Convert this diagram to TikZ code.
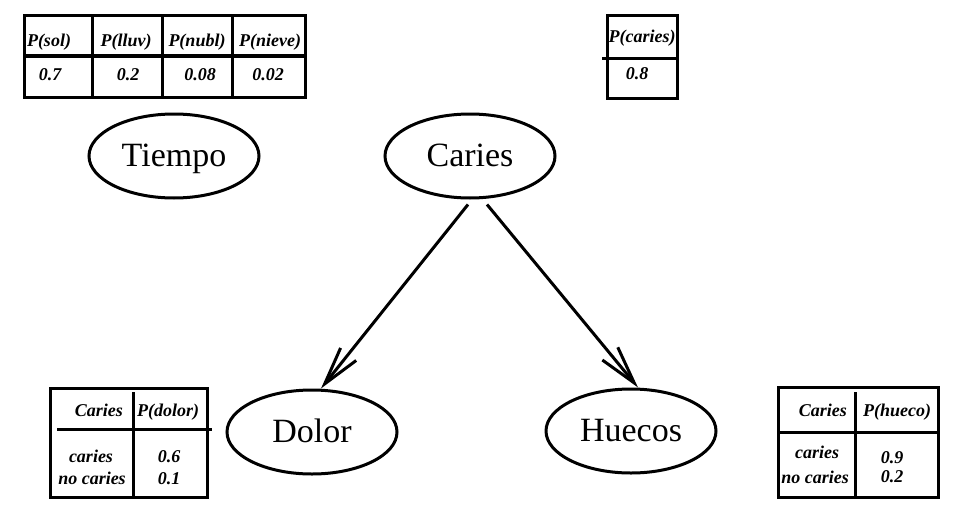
\documentclass[tikz,border=0pt]{standalone}
\usepackage{fontspec}
\setmainfont{Liberation Serif}
\newfontfamily\cellfont{Liberation Serif Bold Italic}
\usetikzlibrary{shapes.geometric,arrows.meta}
\tikzset{
  var/.style={ellipse, draw, line width=3pt, minimum width=170pt, minimum height=84pt, inner sep=0pt, text height=22pt, text depth=2pt, font=\fontsize{34}{40}\selectfont},
  tbl/.style={line width=3pt},
  cell/.style={inner sep=0pt, anchor=base, font=\fontsize{18}{20}\cellfont},
  link/.style={line width=3pt, -{Straight Barb[length=38pt,width=20pt]}}
}
\begin{document}
\begin{tikzpicture}[x=1pt,y=-1pt]
\useasboundingbox (0,0) rectangle (957,527);
\fill[white] (0,0) rectangle (957,527);

% ellipse nodes
\node[var] (tiempo) at (174,156) {Tiempo};
\node[var] (caries) at (470,156) {Caries};
\node[var] (dolor)  at (312,432) {Dolor};
\node[var] (huecos) at (631,431) {Huecos};

% arrows
\draw[link] ([xshift=-2pt,yshift=-5pt]caries.south) -- ([xshift=9pt]dolor.north);
\draw[link] ([xshift=17pt,yshift=-5pt]caries.south) -- ([xshift=7pt]huecos.north);

% weather table
\draw[tbl] (24,16) rectangle (305,97);
\draw[tbl] (92,16) -- (92,97) (162,16) -- (162,97) (232,16) -- (232,97);
\draw[tbl] (24,56) -- (305,56);
\node[cell] (ps) at (49,46) {P(sol)};
\node[cell] (pl) at (126,46) {P(lluv)};
\node[cell] (pn) at (197,46) {P(nubl)};
\node[cell] (pv) at (270,46) {P(nieve)};
\node[cell] (vs) at (50,80) {0.7};
\node[cell] (vl) at (128,80) {0.2};
\node[cell] (vn) at (200,80) {0.08};
\node[cell] (vv) at (268,80) {0.02};

% caries prior table
\draw[tbl] (607,16) rectangle (677,98);
\draw[tbl] (602,58) -- (677,58);
\node[cell] (pc) at (642,43) {P(caries)};
\node[cell] (vc) at (637,79) {0.8};

% dolor table
\draw[tbl] (50,388) rectangle (207,497);
\draw[tbl] (133,392) -- (133,497);
\draw[tbl] (57,429) -- (212,429);
\node[cell, anchor=base east] (dh1) at (123,416) {Caries};
\node[cell, anchor=base west] (dh2) at (137,416) {P(dolor)};
\node[cell] (dr1) at (91,462) {caries};
\node[cell] (dr2) at (92,484) {no caries};
\node[cell] (dv1) at (169,462) {0.6};
\node[cell] (dv2) at (169,484) {0.1};

% hueco table
\draw[tbl] (778,387) rectangle (938,497);
\draw[tbl] (855,392) -- (855,497);
\draw[tbl] (780,432) -- (938,432);
\node[cell, anchor=base east] (hh1) at (847,416) {Caries};
\node[cell] (hh2) at (897,416) {P(hueco)};
\node[cell] (hr1) at (817,458) {caries};
\node[cell] (hr2) at (815,483) {no caries};
\node[cell] (hv1) at (892,463) {0.9};
\node[cell] (hv2) at (892,482) {0.2};
\end{tikzpicture}
\end{document}
